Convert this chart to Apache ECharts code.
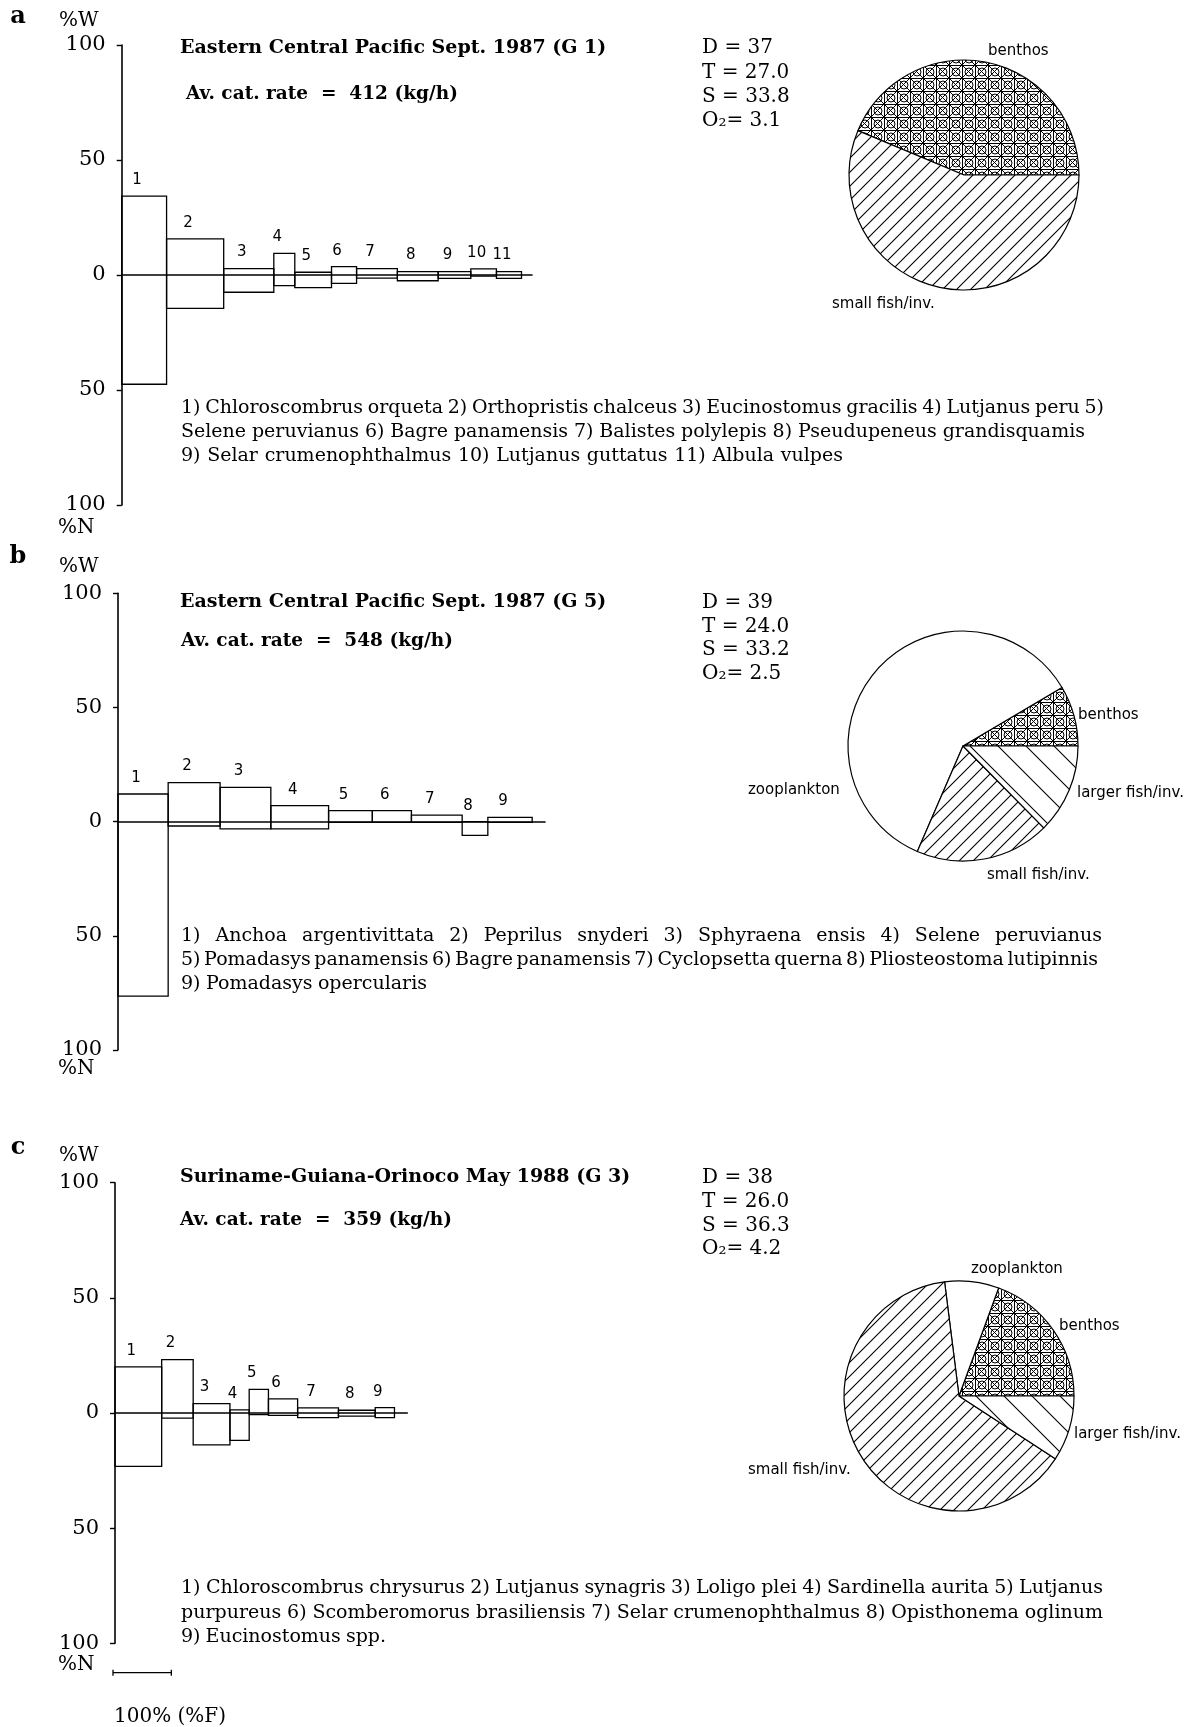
<!DOCTYPE html>
<html>
<head>
<meta charset="utf-8">
<script src="https://cdn.jsdelivr.net/npm/echarts/dist/echarts.min.js"></script>
<style>
  html, body { margin: 0; padding: 0; background: #fff; }
  #chart { width: 1191px; height: 1727px; }
</style>
</head>
<body>
<div id="chart"></div>
<script>
// Relative-importance diagrams of the catch: each box is one species,
// its width is %F (frequency of occurrence), the part above zero is %W
// (weight) and the part below zero is %N (numbers).

// ---- a: Eastern Central Pacific Sept. 1987 (G 1)
const freqA   = [77, 98, 86, 36, 63, 43, 70, 70, 56, 44, 43];
const weightA = [34.3, 15.7, 2.8, 9.4, 1.2, 3.6, 2.8, 1.5, 1.5, 2.7, 1.5];
const numberA = [47.5, 14.5, 7.5, 4.6, 5.5, 3.6, 1.4, 2.5, 1.5, 0.5, 1.5];

// ---- b: Eastern Central Pacific Sept. 1987 (G 5)
const freqB   = [86, 89, 87, 99, 75, 67, 87, 44, 76];
const weightB = [12.1, 17.1, 15.0, 7.0, 4.8, 4.8, 2.9, 0, 1.9];
const numberB = [76.4, 1.9, 3.2, 3.2, 0.3, 0.3, 0.3, 6.0, 0.3];

// ---- c: Suriname-Guiana-Orinoco May 1988 (G 3)
const freqC   = [80, 54, 63, 33, 33, 50, 70, 63, 33];
const weightC = [20.0, 23.2, 4.1, 1.4, 10.3, 6.1, 2.2, 1.2, 2.3];
const numberC = [23.2, 2.2, 13.8, 11.9, 0.7, 1.0, 2.0, 1.4, 2.0];

// Diet composition of the catch (percent of the pie)
const dietNamesA  = ['benthos', 'small fish/inv.'];
const dietValuesA = [43.7, 56.3];
const dietNamesB  = ['benthos', 'zooplankton', 'small fish/inv.', 'larger fish/inv.'];
const dietValuesB = [8.5, 60.0, 18.9, 12.6];
const dietNamesC  = ['benthos', 'zooplankton', 'small fish/inv.', 'larger fish/inv.'];
const dietValuesC = [19.4, 7.6, 63.8, 9.2];

// Station data
const envA = ['D = 37', 'T = 27.0', 'S = 33.8', 'O\u2082= 3.1'];
const envB = ['D = 39', 'T = 24.0', 'S = 33.2', 'O\u2082= 2.5'];
const envC = ['D = 38', 'T = 26.0', 'S = 36.3', 'O\u2082= 4.2'];

const titles = [
  'Eastern Central Pacific Sept. 1987 (G 1)',
  'Eastern Central Pacific Sept. 1987 (G 5)',
  'Suriname-Guiana-Orinoco May 1988 (G 3)'
];
const catchRates = [
  'Av. cat. rate  =  412 (kg/h)',
  'Av. cat. rate  =  548 (kg/h)',
  'Av. cat. rate  =  359 (kg/h)'
];

const speciesA = [
  '1) Chloroscombrus orqueta 2) Orthopristis chalceus 3) Eucinostomus gracilis 4) Lutjanus peru 5)',
  'Selene peruvianus 6) Bagre panamensis 7) Balistes polylepis 8) Pseudupeneus grandisquamis',
  '9) Selar crumenophthalmus 10) Lutjanus guttatus 11) Albula vulpes'
];
const speciesB = [
  '1) Anchoa argentivittata 2) Peprilus snyderi 3) Sphyraena ensis 4) Selene peruvianus',
  '5) Pomadasys panamensis 6) Bagre panamensis 7) Cyclopsetta querna 8) Pliosteostoma lutipinnis',
  '9) Pomadasys opercularis'
];
const speciesC = [
  '1) Chloroscombrus chrysurus 2) Lutjanus synagris 3) Loligo plei 4) Sardinella aurita 5) Lutjanus',
  'purpureus 6) Scomberomorus brasiliensis 7) Selar crumenophthalmus 8) Opisthonema oglinum',
  '9) Eucinostomus spp.'
];

const SERIF = '"DejaVu Serif", "Liberation Serif", serif';
const SANS = '"DejaVu Sans", "Liberation Sans", sans-serif';

// ---------- fill patterns for the pies ----------
function makeTile(size, draw) {
  const c = document.createElement('canvas');
  c.width = size; c.height = size;
  const g = c.getContext('2d');
  g.fillStyle = '#fff';
  g.fillRect(0, 0, size, size);
  g.strokeStyle = '#000';
  g.lineWidth = 1;
  draw(g, size);
  return c;
}
const benthosTile = makeTile(13, (g, s) => {
  g.beginPath();
  g.moveTo(0.5, 0); g.lineTo(0.5, s);
  g.moveTo(0, 0.5); g.lineTo(s, 0.5);
  g.moveTo(0, 0); g.lineTo(s, s);
  g.moveTo(s, 0); g.lineTo(0, s);
  g.stroke();
  g.beginPath();
  g.arc(s / 2 + 0.5, s / 2 + 0.5, 4, 0, Math.PI * 2);
  g.stroke();
});
const smallFishTile = makeTile(14, (g, s) => {
  g.lineWidth = 1.1;
  g.beginPath();
  g.moveTo(-1, s + 1); g.lineTo(s + 1, -1);
  g.moveTo(-1, 1); g.lineTo(1, -1);
  g.moveTo(s - 1, s + 1); g.lineTo(s + 1, s - 1);
  g.stroke();
});
const largeFishTile = makeTile(28, (g, s) => {
  g.lineWidth = 1.1;
  g.beginPath();
  g.moveTo(-1, -1); g.lineTo(s + 1, s + 1);
  g.moveTo(s - 1, -1); g.lineTo(s + 1, 1);
  g.moveTo(-1, s - 1); g.lineTo(1, s + 1);
  g.stroke();
});
const dietFill = {
  'benthos': { image: benthosTile, repeat: 'repeat' },
  'small fish/inv.': { image: smallFishTile, repeat: 'repeat' },
  'larger fish/inv.': { image: largeFishTile, repeat: 'repeat' },
  'zooplankton': '#ffffff'
};

// ---------- helpers ----------
function boxData(freq, weight, number) {
  let start = 0;
  return freq.map((f, i) => {
    const item = [start, start + f, weight[i], number[i], i + 1];
    start += f;
    return item;
  });
}

function renderBox(params, api) {
  const x0 = api.value(0), x1 = api.value(1);
  const w = api.value(2), n = api.value(3);
  const tl = api.coord([x0, w]);
  const br = api.coord([x1, -n]);
  return {
    type: 'group',
    children: [
      {
        type: 'rect',
        shape: { x: tl[0], y: tl[1], width: br[0] - tl[0], height: br[1] - tl[1] },
        style: { fill: 'none', stroke: '#000', lineWidth: 1.3 }
      },
      {
        type: 'text',
        x: (tl[0] + br[0]) / 2 - 7,
        y: tl[1] - 16,
        style: {
          text: String(api.value(4)), font: '15px ' + SANS, fill: '#000',
          align: 'center', verticalAlign: 'middle'
        }
      }
    ]
  };
}

function txt(text, x, y, font, align) {
  return {
    type: 'text', x: x, y: y, silent: true,
    style: { text: text, font: font, fill: '#000', align: align || 'left', verticalAlign: 'middle' }
  };
}

// lay a line of words out between x and right (justified setting)
const measureCtx = document.createElement('canvas').getContext('2d');
function justifiedLine(line, x, y, right, font) {
  measureCtx.font = font;
  const words = line.split(' ');
  const widths = words.map(w => measureCtx.measureText(w).width);
  const total = widths.reduce((a, b) => a + b, 0);
  const gap = words.length > 1 ? Math.max((right - x - total) / (words.length - 1), 2) : 0;
  const out = [];
  let cx = x;
  words.forEach((w, i) => {
    out.push(txt(w, cx, y, font));
    cx += widths[i] + gap;
  });
  return out;
}

// ---------- layout ----------
const grids = [
  { left: 121.7, top: 45,     width: 410.3, height: 460 },
  { left: 118,   top: 593.3,  width: 427,   height: 456.7 },
  { left: 115,   top: 1182.7, width: 292.3, height: 460.6 }
];
const xMax = [704, 732, 501];

const panels = [
  { letter: 'a', freq: freqA, w: weightA, n: numberA, env: envA, envY: [48, 72.3, 96.6, 121],
    titleY: 48, rateX: 186, rateY: 94, species: speciesA,
    spY: [408.5, 432.5, 456.5], spRight: [1104, 1085, 843],
    letterY: 17, pctWY: 21, pctNY: 528,
    pie: { center: [964, 175], r: 115, names: dietNamesA, values: dietValuesA },
    pieLabels: [['benthos', 988, 51.5], ['small fish/inv.', 832, 304]] },
  { letter: 'b', freq: freqB, w: weightB, n: numberB, env: envB, envY: [603, 626.5, 650.2, 673.8],
    titleY: 602.5, rateX: 181, rateY: 641.5, species: speciesB,
    spY: [936, 960.2, 984.4], spRight: [1102, 1098, 427],
    letterY: 557, pctWY: 567, pctNY: 1069,
    pie: { center: [963, 746], r: 115, names: dietNamesB, values: dietValuesB },
    pieLabels: [['benthos', 1078, 715], ['larger fish/inv.', 1077, 793.5],
                ['zooplankton', 748, 790], ['small fish/inv.', 987, 875.5]] },
  { letter: 'c', freq: freqC, w: weightC, n: numberC, env: envC, envY: [1177.5, 1202, 1225.5, 1249],
    titleY: 1177.5, rateX: 180, rateY: 1220.5, species: speciesC,
    spY: [1588.5, 1612.8, 1637.2], spRight: [1103, 1103, 386],
    letterY: 1148, pctWY: 1156, pctNY: 1665,
    pie: { center: [959, 1396], r: 115, names: dietNamesC, values: dietValuesC },
    pieLabels: [['zooplankton', 971, 1269.5], ['benthos', 1059, 1326.5],
                ['larger fish/inv.', 1074, 1434.5], ['small fish/inv.', 748, 1470]] }
];

const option = {
  animation: false,
  backgroundColor: '#fff',
  grid: grids.map(g => Object.assign({ containLabel: false, outerBoundsMode: 'none' }, g)),
  xAxis: panels.map((p, i) => ({
    type: 'value', gridIndex: i, min: 0, max: xMax[i],
    axisLine: { show: true, onZero: true, lineStyle: { color: '#000', width: 1.6 } },
    axisTick: { show: false }, axisLabel: { show: false }, splitLine: { show: false }
  })),
  yAxis: panels.map((p, i) => ({
    type: 'value', gridIndex: i, min: -100, max: 100, interval: 50,
    axisLine: { show: true, onZero: false, lineStyle: { color: '#000', width: 1.6 } },
    axisTick: { show: true, length: 5, lineStyle: { color: '#000', width: 1.4 } },
    axisLabel: {
      show: true, margin: 16, color: '#000', fontFamily: SERIF, fontSize: 21,
      formatter: v => String(Math.abs(v))
    },
    splitLine: { show: false }
  })),
  series: [],
  graphic: []
};

panels.forEach((p, i) => {
  option.series.push({
    type: 'custom', xAxisIndex: i, yAxisIndex: i, silent: true,
    renderItem: renderBox,
    encode: { x: [0, 1], y: [2, 3] },
    data: boxData(p.freq, p.w, p.n)
  });
  option.series.push({
    type: 'pie', silent: true, center: p.pie.center, radius: p.pie.r,
    startAngle: 0, clockwise: false,
    label: { show: false }, labelLine: { show: false },
    itemStyle: { borderColor: '#000', borderWidth: 1.2 },
    emphasis: { disabled: true },
    data: p.pie.names.map((nm, k) => ({
      name: nm, value: p.pie.values[k], itemStyle: { color: dietFill[nm] }
    }))
  });

  const g = option.graphic;
  g.push(txt(p.letter, 18, p.letterY, 'bold 24px ' + SERIF, 'center'));
  g.push(txt('%W', 59, p.pctWY, '20px ' + SERIF));
  g.push(txt('%N', 58, p.pctNY, '20px ' + SERIF));
  g.push(txt(titles[i], 180, p.titleY, 'bold 19px ' + SERIF));
  g.push(txt(catchRates[i], p.rateX, p.rateY, 'bold 18.5px ' + SERIF));
  p.env.forEach((e, k) => g.push(txt(e, 702, p.envY[k], '20px ' + SERIF)));
  p.species.forEach((line, k) => {
    justifiedLine(line, 181, p.spY[k], p.spRight[k], '19px ' + SERIF).forEach(t => g.push(t));
  });
  p.pieLabels.forEach(l => g.push(txt(l[0], l[1], l[2], '15px ' + SANS)));
});

const chart = echarts.init(document.getElementById('chart'), null, { renderer: 'canvas' });
chart.setOption(option);

// scale bar for %F, measured on the axis of the last panel
const p0 = chart.convertToPixel({ gridIndex: 2 }, [0, 0]);
const p1 = chart.convertToPixel({ gridIndex: 2 }, [100, 0]);
const barY = 1672.7;
const x0 = p0[0] - 2, x1 = p1[0] - 2;
option.graphic.push(
  { type: 'line', silent: true, shape: { x1: x0, y1: barY, x2: x1, y2: barY }, style: { stroke: '#000', lineWidth: 1.3 } },
  { type: 'line', silent: true, shape: { x1: x0, y1: barY - 3, x2: x0, y2: barY + 3 }, style: { stroke: '#000', lineWidth: 1.3 } },
  { type: 'line', silent: true, shape: { x1: x1, y1: barY - 3, x2: x1, y2: barY + 3 }, style: { stroke: '#000', lineWidth: 1.3 } },
  txt('100% (%F)', x0 + 1, 1716.7, '20px ' + SERIF)
);
chart.setOption({ graphic: option.graphic });
</script>
</body>
</html>
